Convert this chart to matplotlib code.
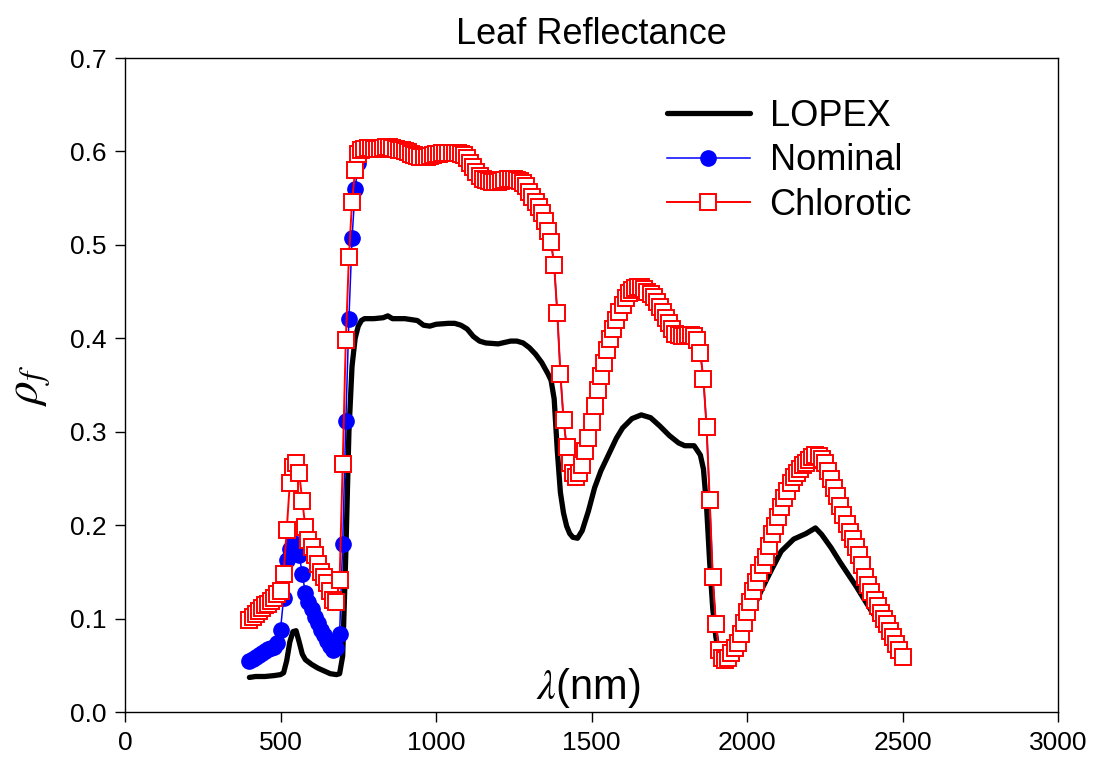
import numpy as np
import matplotlib
matplotlib.use("Agg")
import matplotlib.pyplot as plt

plt.rcParams['font.family'] = ['Liberation Sans', 'DejaVu Sans']
plt.rcParams['mathtext.fontset'] = 'stix'

# ---------------- data ----------------
wavelength = np.arange(400, 2510, 10)

nominal_vis = [0.055, 0.057, 0.059, 0.061, 0.063, 0.065, 0.067, 0.068, 0.070, 0.074,
               0.088, 0.122, 0.163, 0.175, 0.181, 0.180, 0.168, 0.148, 0.127, 0.118,
               0.110, 0.102, 0.095, 0.088, 0.082, 0.076, 0.071, 0.066, 0.068, 0.083,
               0.180, 0.311, 0.421, 0.507, 0.560, 0.588]

chlorotic_vis = [0.099, 0.102, 0.105, 0.108, 0.111, 0.114, 0.116, 0.119, 0.122, 0.126,
                 0.130, 0.148, 0.195, 0.245, 0.262, 0.266, 0.256, 0.226, 0.198, 0.184,
                 0.177, 0.168, 0.158, 0.150, 0.145, 0.138, 0.130, 0.120, 0.118, 0.141,
                 0.265, 0.398, 0.487, 0.546, 0.580, 0.597]

# 760 .. 2500 nm (shared by both simulated leaves)
common_nir = [0.601, 0.603, 0.604, 0.604, 0.603, 0.603, 0.603, 0.604, 0.605,
              0.605, 0.604, 0.603, 0.602, 0.601, 0.600, 0.599, 0.597, 0.596, 0.595,
              0.594, 0.594, 0.594, 0.595, 0.596, 0.597, 0.597, 0.598, 0.598, 0.598,
              0.598, 0.598, 0.598, 0.597, 0.596, 0.593, 0.588, 0.583, 0.578, 0.574,
              0.571, 0.569, 0.568, 0.567, 0.567, 0.567, 0.568, 0.569, 0.570, 0.570,
              0.570, 0.569, 0.568, 0.566, 0.563, 0.557, 0.551, 0.546, 0.540, 0.534,
              0.525, 0.515, 0.503, 0.478, 0.427, 0.362, 0.313, 0.284, 0.266, 0.256,
              0.252, 0.256, 0.264, 0.279, 0.293, 0.310, 0.328, 0.345, 0.360, 0.374,
              0.387, 0.399, 0.410, 0.420, 0.428, 0.436, 0.443, 0.448, 0.452, 0.454,
              0.455, 0.455, 0.453, 0.450, 0.447, 0.444, 0.439, 0.434, 0.428, 0.422,
              0.416, 0.410, 0.405, 0.403, 0.402, 0.402, 0.403, 0.403, 0.402, 0.398,
              0.384, 0.356, 0.305, 0.227, 0.144, 0.094, 0.066, 0.058, 0.056, 0.058,
              0.063, 0.068, 0.074, 0.083, 0.095, 0.107, 0.118, 0.129, 0.139, 0.149,
              0.157, 0.166, 0.178, 0.190, 0.199, 0.209, 0.219, 0.229, 0.237, 0.245,
              0.251, 0.256, 0.260, 0.264, 0.267, 0.270, 0.273, 0.275, 0.274, 0.271,
              0.266, 0.258, 0.249, 0.240, 0.231, 0.221, 0.211, 0.201, 0.193, 0.185,
              0.177, 0.168, 0.157, 0.144, 0.136, 0.128, 0.120, 0.113, 0.106, 0.100,
              0.094, 0.087, 0.080, 0.073, 0.066, 0.059]

lopex_wl = [400, 420, 450, 480, 500, 510, 520, 530, 540, 550, 560, 570, 580, 600, 620,
            640, 660, 680, 690, 700, 710, 720, 730, 740, 750, 760, 770, 800, 830, 845,
            860, 900, 940, 960, 980, 1000, 1040, 1060, 1080, 1100, 1120, 1140, 1160,
            1200, 1240, 1260, 1280, 1300, 1320, 1340, 1360, 1370, 1380, 1390, 1400,
            1410, 1420, 1430, 1440, 1455, 1470, 1490, 1510, 1530, 1550, 1580, 1600,
            1630, 1660, 1690, 1720, 1750, 1780, 1800, 1830, 1850, 1860, 1870, 1880,
            1890, 1900, 1910, 1920, 1940, 1960, 1980, 2000, 2020, 2050, 2080, 2110,
            2150, 2190, 2220, 2240, 2270, 2300, 2350, 2400, 2450, 2500]
lopex_refl = [0.037, 0.038, 0.038, 0.039, 0.040, 0.042, 0.055, 0.075, 0.086, 0.087,
              0.075, 0.062, 0.056, 0.051, 0.047, 0.044, 0.041, 0.040, 0.041, 0.060,
              0.170, 0.300, 0.370, 0.400, 0.413, 0.419, 0.421, 0.421, 0.422, 0.424,
              0.421, 0.421, 0.419, 0.414, 0.413, 0.415, 0.416, 0.416, 0.414, 0.410,
              0.402, 0.397, 0.395, 0.394, 0.397, 0.397, 0.395, 0.390, 0.383, 0.374,
              0.362, 0.355, 0.335, 0.280, 0.235, 0.213, 0.199, 0.191, 0.187, 0.186,
              0.194, 0.215, 0.240, 0.258, 0.272, 0.293, 0.304, 0.314, 0.318, 0.315,
              0.306, 0.296, 0.288, 0.285, 0.285, 0.275, 0.260, 0.220, 0.160, 0.110,
              0.080, 0.062, 0.055, 0.056, 0.066, 0.080, 0.095, 0.111, 0.133, 0.153,
              0.172, 0.185, 0.191, 0.197, 0.190, 0.176, 0.160, 0.135, 0.108, 0.083,
              0.058]

nominal = np.array(nominal_vis + common_nir)
chlorotic = np.array(chlorotic_vis + common_nir)

series_labels = ["LOPEX", "Nominal", "Chlorotic"]
x_ticks = [0, 500, 1000, 1500, 2000, 2500, 3000]
y_ticks = [0.0, 0.1, 0.2, 0.3, 0.4, 0.5, 0.6, 0.7]

# ---------------- figure ----------------
fig = plt.figure(figsize=(10.96, 7.65), dpi=100)
ax = fig.add_axes([125 / 1096, 1 - 712 / 765, (1058 - 125) / 1096, (712 - 58) / 765])

ax.plot(lopex_wl, lopex_refl, color='black', lw=3.8, solid_capstyle='round',
        label=series_labels[0], zorder=2)
ax.plot(wavelength, nominal, color='#0000ff', lw=1.1, marker='o', ms=11,
        mfc='#0000ff', mec='#0000ff', label=series_labels[1], zorder=3)
ax.plot(wavelength, chlorotic, color='#ff0000', lw=1.4, marker='s', ms=11,
        mfc='white', mec='#ff0000', mew=1.4, label=series_labels[2], zorder=4)

ax.set_xlim(0, 3000)
ax.set_ylim(0.0, 0.7)
ax.set_xticks(x_ticks)
ax.set_xticklabels([str(t) for t in x_ticks])
ax.set_yticks(y_ticks)
ax.set_yticklabels([f"{t:.1f}" for t in y_ticks])
ax.tick_params(direction='out', length=7.5, width=1.0, labelsize=19, pad=6,
               top=False, right=False)
for s in ax.spines.values():
    s.set_linewidth(1.0)

ax.set_title("Leaf Reflectance", fontsize=26, pad=10)
ax.text(0.497, 0.037, r"$\lambda$(nm)", transform=ax.transAxes, fontsize=30,
        ha='center', va='center')
ax.set_ylabel(r"$\rho_f$", fontsize=34, labelpad=12)

leg = ax.legend(loc='upper left', bbox_to_anchor=(0.565, 0.96), frameon=False,
                fontsize=26, handlelength=2.3, handletextpad=0.55, labelspacing=0.27,
                borderaxespad=0)

fig.savefig("out.png", dpi=100)
